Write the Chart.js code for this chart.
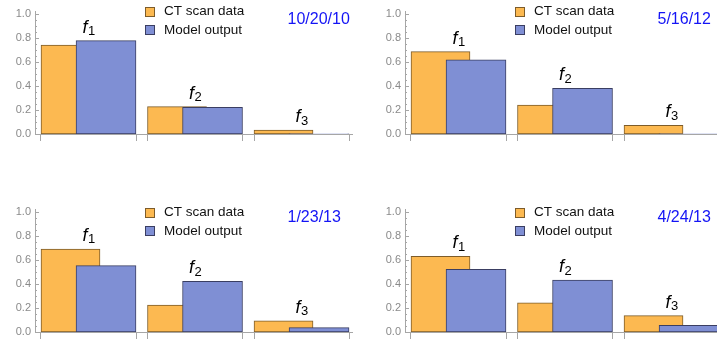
<!DOCTYPE html>
<html>
<head>
<meta charset="utf-8">
<script src="https://cdn.jsdelivr.net/npm/chart.js@4.4.1/dist/chart.umd.min.js"></script>
<style>
  html, body { margin: 0; padding: 0; background: #fff; overflow: hidden; }
  #wrap { position: relative; width: 717px; height: 343px; overflow: hidden; }
  #wrap canvas { position: absolute; }
</style>
</head>
<body>
<div id="wrap">
  <canvas id="c0" width="360" height="145" style="left:0px;top:0px"></canvas>
  <canvas id="c1" width="360" height="145" style="left:370px;top:0px"></canvas>
  <canvas id="c2" width="360" height="145" style="left:0px;top:198px"></canvas>
  <canvas id="c3" width="360" height="145" style="left:370px;top:198px"></canvas>
</div>
<script>
// dados
const categorias = ['1', '2', '3'];            // f1, f2, f3
const datas = ['10/20/10', '5/16/12', '1/23/13', '4/24/13'];
const seriesNomes = ['CT scan data', 'Model output'];
const ctScan = [
  [0.740, 0.228, 0.033],
  [0.686, 0.242, 0.072],
  [0.692, 0.225, 0.094],
  [0.631, 0.244, 0.136],
];
const modelo = [
  [0.778, 0.222, 0.002],
  [0.619, 0.381, 0.002],
  [0.553, 0.422, 0.036],
  [0.522, 0.433, 0.056],
];
const yTicks = [0, 0.2, 0.4, 0.6, 0.8, 1.0];

// layout (unidades do eixo x: 1 = distancia entre grupos)
const X_MIN = -0.0563, X_MAX = 2.92, Y_MAX = 1.02;
const LAR_LAR = 0.554, AZUL_OFF = 0.329, AZUL_LAR = 0.563;
const PX_UNIT = 317 / (X_MAX - X_MIN);
const CINZA = '#a6a6a6';
const LARANJA = '#fcb951', LARANJA_BORDA = '#7d5c2a';
const AZUL = '#7f8fd4', AZUL_BORDA = '#3a3e62';
const FONTE = '"Liberation Sans", Arial, sans-serif';
const legendaTop = [11, 11, 14, 14];
const dataY = [20, 20, 19.5, 19.5];

// marcas do eixo y (para dentro) + labels f, legenda e data
const extras = {
  id: 'extras',
  afterDraw(chart, args, opts) {
    const ctx = chart.ctx;
    const y = chart.scales.y, area = chart.chartArea;
    ctx.save();
    ctx.strokeStyle = CINZA;
    ctx.lineWidth = 1;
    for (let k = 0; k <= 20; k++) {
      const v = k * 0.05;
      const py = Math.round(y.getPixelForValue(v)) + 0.5;
      const len = (k % 4 === 0) ? 4 : 2;
      ctx.beginPath();
      ctx.moveTo(area.left, py);
      ctx.lineTo(area.left + len, py);
      ctx.stroke();
    }

    // f1, f2, f3
    const mO = chart.getDatasetMeta(0), mA = chart.getDatasetMeta(1);
    ctx.fillStyle = '#000';
    ctx.textBaseline = 'alphabetic';
    categorias.forEach((c, i) => {
      const o = mO.data[i], a = mA.data[i];
      const esq = o.x - o.width / 2, dir = a.x + a.width / 2;
      const topo = Math.min(o.y, a.y);
      ctx.font = 'italic 18px ' + FONTE;
      const wf = ctx.measureText('f').width;
      ctx.font = '13px ' + FONTE;
      const ws = ctx.measureText(c).width;
      const x0 = (esq + dir) / 2 - (wf + ws) / 2;
      ctx.font = 'italic 18px ' + FONTE;
      ctx.fillText('f', x0, topo - 8);
      ctx.font = '13px ' + FONTE;
      ctx.fillText(c, x0 + wf + 0.5, topo - 5.5);
    });

    // legenda
    const ly = opts.legendaTop;
    const cores = [[LARANJA, LARANJA_BORDA], [AZUL, AZUL_BORDA]];
    ctx.font = '13.5px ' + FONTE;
    ctx.textBaseline = 'middle';
    seriesNomes.forEach((nome, j) => {
      const cy = ly + j * 18.8;
      ctx.fillStyle = cores[j][0];
      ctx.fillRect(145.5, Math.round(cy - 4.5) + 0.5, 9, 9);
      ctx.strokeStyle = cores[j][1];
      ctx.strokeRect(145.5, Math.round(cy - 4.5) + 0.5, 9, 9);
      ctx.fillStyle = '#111';
      ctx.fillText(nome, 164, cy + 0.5);
    });

    // data
    ctx.font = '16px ' + FONTE;
    ctx.fillStyle = '#1414f5';
    ctx.fillText(opts.data, 287.5, opts.dataY);
    ctx.restore();
  }
};

function criarPainel(idx) {
  const ctx = document.getElementById('c' + idx).getContext('2d');
  const xTicks = [];
  categorias.forEach((c, i) => { xTicks.push(i, i + AZUL_OFF + AZUL_LAR); });

  new Chart(ctx, {
    type: 'bar',
    data: {
      datasets: [
        {
          label: seriesNomes[0],
          data: ctScan[idx].map((v, i) => ({ x: i + LAR_LAR / 2, y: v })),
          backgroundColor: LARANJA,
          borderColor: LARANJA_BORDA,
          borderWidth: 1,
          borderSkipped: false,
          barThickness: LAR_LAR * PX_UNIT,
          grouped: false,
          order: 2,
        },
        {
          label: seriesNomes[1],
          data: modelo[idx].map((v, i) => ({ x: i + AZUL_OFF + AZUL_LAR / 2, y: v })),
          backgroundColor: AZUL,
          borderColor: AZUL_BORDA,
          borderWidth: 1,
          borderSkipped: false,
          barThickness: AZUL_LAR * PX_UNIT,
          grouped: false,
          order: 1,
        },
      ],
    },
    options: {
      responsive: false,
      animation: false,
      devicePixelRatio: 1,
      layout: { padding: { top: 134 - Y_MAX * 120, right: 8, left: 0, bottom: 0 } },
      plugins: {
        legend: { display: false },
        tooltip: { enabled: false },
        extras: { legendaTop: legendaTop[idx], data: datas[idx], dataY: dataY[idx] },
      },
      scales: {
        x: {
          type: 'linear',
          min: X_MIN,
          max: X_MAX,
          offset: false,
          afterBuildTicks: s => { s.ticks = xTicks.map(v => ({ value: v })); },
          afterFit: s => { s.height = 11; },
          ticks: { display: false },
          grid: { offset: false, drawOnChartArea: false, drawTicks: true, tickLength: 7, color: CINZA, lineWidth: 1 },
          border: { display: true, color: CINZA, width: 1 },
        },
        y: {
          type: 'linear',
          min: 0,
          max: Y_MAX,
          afterBuildTicks: s => { s.ticks = yTicks.map(v => ({ value: v })); },
          afterFit: s => { s.width = 35; },
          ticks: {
            padding: 4,
            color: '#8a8a8a',
            font: { family: FONTE, size: 11 },
            callback: v => v.toFixed(1),
          },
          grid: { display: false, drawTicks: false },
          border: { display: true, color: CINZA, width: 1 },
        },
      },
    },
    plugins: [extras],
  });
}

[0, 1, 2, 3].forEach(criarPainel);
</script>
</body>
</html>
